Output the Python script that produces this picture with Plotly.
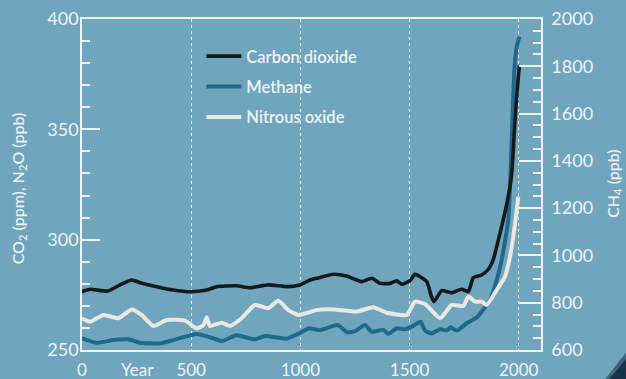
import plotly.graph_objects as go

# ---- data ----
co2_years = [0, 37, 119, 174, 228, 266, 342, 417, 495, 571, 617, 708, 769, 853, 937, 998,
             1044, 1075, 1150, 1212, 1281, 1327, 1365, 1411, 1441, 1464, 1502, 1525, 1579,
             1598, 1612, 1647, 1693, 1739, 1769, 1792, 1830, 1861, 1884, 1907, 1929, 1952,
             1968, 1983, 1994, 2003]
co2_ppm = [276.4, 277.5, 276.7, 279.5, 281.7, 280.5, 278.7, 277.2, 276.4, 277.2, 278.7, 279.1,
           278.2, 279.5, 278.7, 279.5, 281.7, 282.5, 284.3, 283.5, 281.0, 282.5, 280.2, 280.2,
           281.4, 279.8, 281.4, 284.3, 281.0, 274.9, 271.9, 276.9, 276.0, 277.5, 276.4, 282.8,
           284.0, 286.6, 291.2, 300.0, 308.9, 319.5, 330.0, 354.0, 369.0, 379.0]

ch4_years = [0, 67, 143, 212, 266, 357, 418, 525, 586, 640, 708, 792, 838, 937, 998, 1040,
             1090, 1170, 1215, 1250, 1296, 1327, 1380, 1403, 1441, 1479, 1517, 1551, 1571,
             1602, 1640, 1670, 1689, 1716, 1762, 1808, 1830, 1869, 1899, 1922, 1952, 1963,
             1971, 1980, 1991, 2003]
ch4_ppb = [650, 630, 642, 645, 631, 628, 642, 668, 654, 638, 662, 645, 659, 648, 672, 692,
           684, 706, 675, 680, 706, 677, 685, 668, 692, 688, 702, 720, 682,
           670, 688, 682, 696, 682, 713, 738, 762, 812, 896, 981, 1150, 1361,
           1573, 1784, 1883, 1925]

n2o_years = [0, 37, 98, 166, 228, 273, 327, 388, 472, 525, 556, 571, 586, 640, 678, 731, 792,
             853, 899, 945, 991, 1075, 1151, 1258, 1334, 1395, 1487, 1525, 1571, 1640, 1693,
             1746, 1769, 1800, 1830, 1853, 1899, 1937, 1957, 1975, 1991, 1998]
n2o_ppb = [264.4, 262.8, 265.9, 264.4, 268.4, 265.9, 260.9, 263.6, 263.3, 259.8, 261.3, 264.8,
           260.9, 262.4, 260.9, 264.4, 270.4, 268.9, 272.3, 268.1, 265.9, 268.1, 268.4, 267.4,
           269.4, 266.9, 265.9, 271.9, 270.8, 264.4, 270.4, 269.9, 274.2, 271.9, 271.9, 270.4,
           277.2, 283.2, 290.8, 301.3, 313.4, 319.5]

x_ticks = [0, 500, 1000, 1500, 2000]
left_ticks = [250, 300, 350, 400]
right_ticks = [600, 800, 1000, 1200, 1400, 1600, 1800, 2000]

BG = "#70a5be"
WHITE = "#eef3f5"
FONT = "Lato, 'Open Sans', sans-serif"

fig = go.Figure()
line_shape = dict(shape="spline", smoothing=0.5)

fig.add_trace(go.Scatter(x=ch4_years, y=ch4_ppb, mode="lines", name="Methane",
                         line=dict(color="#1f6a8a", width=4, **line_shape),
                         yaxis="y", legendgroup="b", legendrank=2))
fig.add_trace(go.Scatter(x=n2o_years, y=n2o_ppb, mode="lines", name="Nitrous oxide",
                         line=dict(color="#ebe7e2", width=4, **line_shape),
                         yaxis="y2", legendgroup="c", legendrank=3))
fig.add_trace(go.Scatter(x=co2_years, y=co2_ppm, mode="lines", name="Carbon dioxide",
                         line=dict(color="#161a1c", width=3.6, **line_shape),
                         yaxis="y2", legendgroup="a", legendrank=1))

fig.update_layout(
    width=626, height=379,
    margin=dict(l=82, r=85, t=19, b=29, autoexpand=False),
    paper_bgcolor=BG, plot_bgcolor=BG,
    font=dict(family=FONT, color=WHITE, size=18),
    showlegend=True,
    legend=dict(x=0.26, y=0.94, xanchor="left", yanchor="top", itemwidth=35,
                bgcolor="rgba(0,0,0,0)", tracegroupgap=6,
                font=dict(family=FONT, size=16.5, color=WHITE, weight=600)),
    xaxis=dict(range=[0, 2102], tickvals=x_ticks, ticks="", showline=True, mirror=True,
               linecolor=WHITE, linewidth=1.5, showgrid=True, gridcolor=WHITE,
               griddash="dot", gridwidth=1.3, zeroline=False, ticklabelstandoff=4,
               automargin=False, tickfont=dict(size=17, color=WHITE)),
    yaxis=dict(side="right", range=[600, 2000], tickvals=right_ticks, ticks="inside",
               ticklen=22, tickwidth=1.5, tickcolor=WHITE, showline=True,
               linecolor=WHITE, linewidth=1.5, showgrid=False, zeroline=False,
               automargin=False,
               minor=dict(dtick=50, ticks="inside", ticklen=8, tickwidth=1.5,
                          tickcolor=WHITE, showgrid=False),
               ticklabelstandoff=5, tickfont=dict(size=18, color=WHITE)),
    yaxis2=dict(side="left", overlaying="y", range=[250, 400], tickvals=left_ticks,
                ticks="inside", ticklen=18, tickwidth=1.5, tickcolor=WHITE,
                showline=True, linecolor=WHITE, linewidth=1.5, showgrid=False,
                zeroline=False, automargin=False,
                minor=dict(dtick=10, ticks="inside", ticklen=8, tickwidth=1.5,
                           tickcolor=WHITE, showgrid=False),
                ticklabelstandoff=-2, tickfont=dict(size=18, color=WHITE)),
    annotations=[
        dict(text="Year", xref="paper", yref="paper", x=0.12, y=-0.06,
             xanchor="center", yanchor="middle", showarrow=False,
             font=dict(size=17, color=WHITE)),
        dict(text="CO<sub>2</sub> (ppm), N<sub>2</sub>O (ppb)", xref="paper", yref="paper",
             x=-0.139, y=0.489, xanchor="center", yanchor="middle", textangle=-90,
             showarrow=False, font=dict(size=16, color=WHITE, weight=500)),
        dict(text="CH<sub>4</sub> (ppb)", xref="paper", yref="paper",
             x=1.159, y=0.505, xanchor="center", yanchor="middle", textangle=-90,
             showarrow=False, font=dict(size=16, color=WHITE, weight=500)),
    ],
    shapes=[
        dict(type="path", xref="paper", yref="paper", layer="above",
             path="M 1.138,-0.09 L 1.19,-0.0 L 1.19,-0.09 Z",
             fillcolor="#3f6680", line=dict(width=0)),
        dict(type="path", xref="paper", yref="paper", layer="above",
             path="M 1.147,-0.09 L 1.19,-0.02 L 1.19,-0.09 Z",
             fillcolor="#1a3349", line=dict(width=0)),
    ],
)

fig.write_html(
    "out.html",
    config={"displayModeBar": False},
    post_script="document.body.style.margin='0px';"
                "document.body.style.background='#70a5be';",
)
